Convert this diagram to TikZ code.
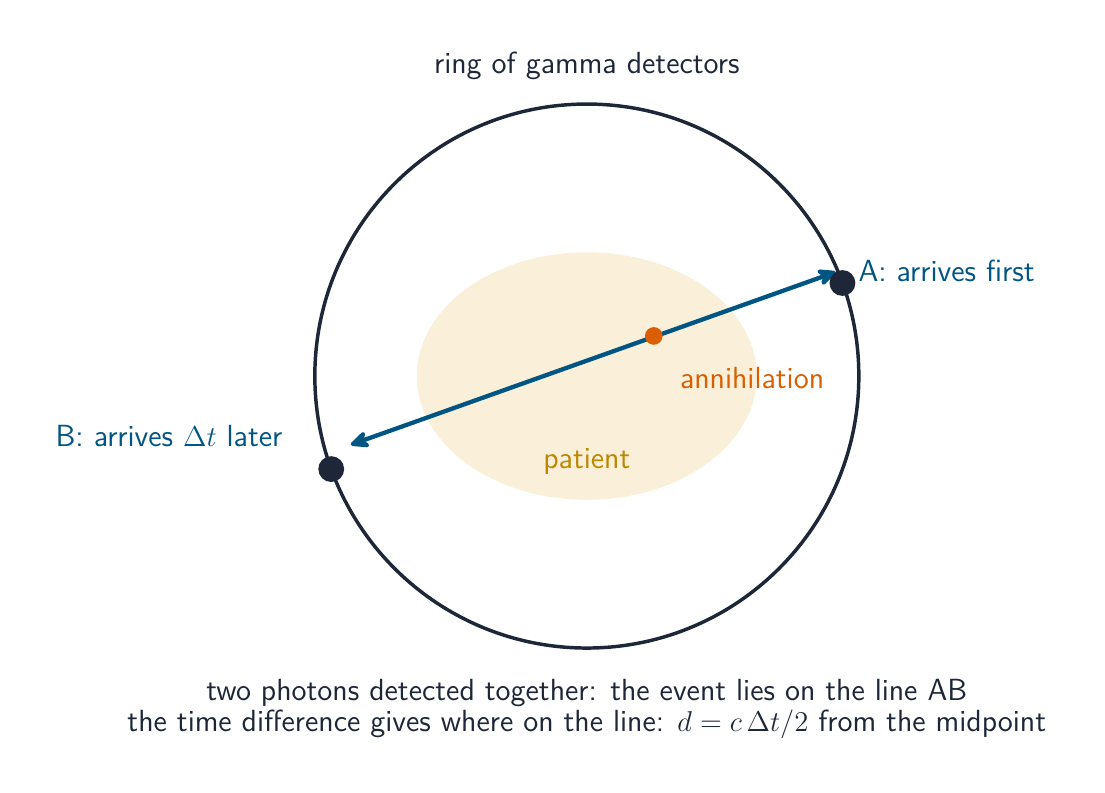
\documentclass[tikz,border=0pt]{standalone}
\usepackage{amsmath,amssymb}
\usepackage{tikz}
\usetikzlibrary{calc,arrows.meta}
\definecolor{ringcol}{HTML}{1E2738}
\definecolor{raycol}{HTML}{005582}
\definecolor{hitcol}{HTML}{D95F02}
\definecolor{bodycol}{HTML}{FAF0D9}
\definecolor{bodytext}{HTML}{BF8700}

\begin{document}
\begin{tikzpicture}[font=\sffamily\fontsize{12.8}{13}\selectfont,
  detector/.style={circle,fill=ringcol,inner sep=0pt,minimum size=0.38cm},
  lbl/.style={text=raycol}]
  \useasboundingbox (-8.63,-6.12) rectangle (7.62,5.53);
  % patient body and detector ring
  \fill[bodycol] (0,0) ellipse (2.5cm and 1.82cm);
  \draw[ringcol,line width=1.45pt] (0,0) circle (4cm);
  \node[text=ringcol] (title) at (0,4.56) {ring of gamma detectors};
  \node[text=bodytext] (patient) at (0,-1.25) {patient};
  % line of response
  \coordinate (tipA) at (3.66,1.53);
  \coordinate (tipB) at (-3.47,-1.01);
  \draw[{Stealth[round,length=10pt,width=9pt]}-{Stealth[round,length=10pt,width=9pt]},raycol,line width=1.8pt] (tipB) -- (tipA);
  \node[circle,fill=hitcol,inner sep=0pt,minimum size=0.26cm] (event) at (0.985,0.59) {};
  \node[text=hitcol] (evlabel) at (2.43,-0.03) {annihilation};
  % detectors hit
  \node[detector] (detA) at (20:4) {};
  \node[detector] (detB) at (200:4) {};
  \node[lbl,anchor=west,inner sep=0pt] (labA) at (3.99,1.54) {A: arrives first};
  \node[lbl,anchor=east,inner sep=0pt] (labB) at (-4.47,-0.88) {B: arrives $\Delta t$ later};
  % caption
  \node[text=ringcol,align=center] (caption) at (0,-4.89)
    {two photons detected together: the event lies on the line AB\\
     the time difference gives where on the line: $d = c\,\Delta t/2$ from the midpoint};
\end{tikzpicture}
\end{document}
